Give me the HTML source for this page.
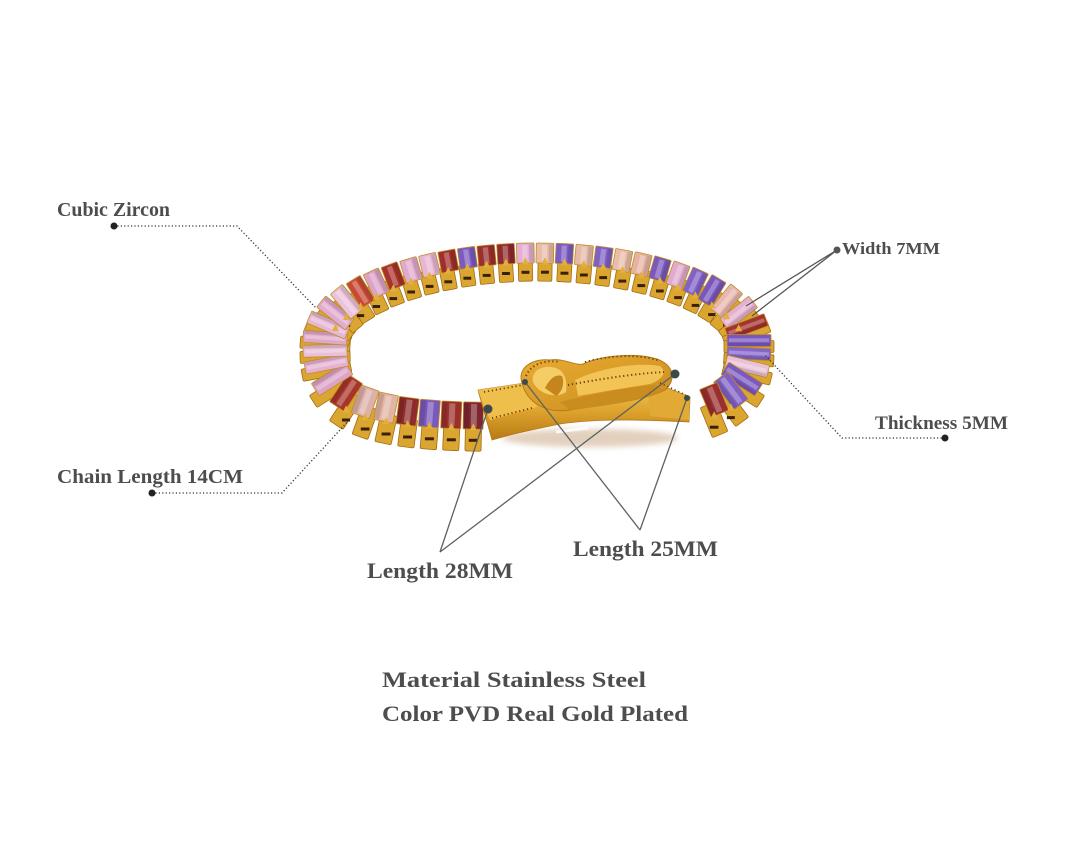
<!DOCTYPE html>
<html><head><meta charset="utf-8">
<style>
html,body{margin:0;padding:0;background:#fff;}
svg{display:block;}
text{font-family:"Liberation Serif","DejaVu Serif",serif;font-weight:bold;fill:#4d4d4d;}
</style></head>
<body>
<svg id="s" width="1080" height="864" viewBox="0 0 1080 864" xmlns="http://www.w3.org/2000/svg">
<defs>
  <linearGradient id="gb" x1="0" y1="0" x2="0" y2="1">
    <stop offset="0" stop-color="#f4cc5a"/>
    <stop offset="0.5" stop-color="#dea42e"/>
    <stop offset="1" stop-color="#b87a14"/>
  </linearGradient>
  <linearGradient id="gl" x1="0" y1="0" x2="1" y2="1">
    <stop offset="0" stop-color="#e8ad34"/>
    <stop offset="1" stop-color="#c98a1c"/>
  </linearGradient>
  <filter id="bl" x="-20%" y="-50%" width="140%" height="200%"><feGaussianBlur stdDeviation="3"/></filter>
</defs>
<rect width="1080" height="864" fill="#fff"/>

<g id="gold"></g>
<g id="slots"></g>
<g id="gems"></g>
<g id="prongs"></g>

<!-- clasp -->
<g id="clasp">
  <ellipse cx="590" cy="438" rx="88" ry="9" fill="#b98a5c" opacity="0.4" filter="url(#bl)"/>
  <path d="M478,390 L525,383 L560,392 L650,381 L690,397 L689,422 C650,420 600,418 560,424 C530,430 505,436 492,440 C488,425 482,405 478,390 Z" fill="url(#gb)" stroke="#b27716" stroke-width="0.8"/>
  <path d="M478,390 L525,383 L537,407 L490,420 Z" fill="#efbf4c"/>
  <path d="M647,381 L690,397 L689,420 L650,416 Z" fill="#e2aa34"/>
  <path d="M522,383 C517,368 532,358 550,360 C565,358 575,366 583,364 C600,356 635,352 657,359 C675,366 676,380 665,390 C640,402 600,405 570,410 C545,414 527,402 522,383 Z" fill="url(#gl)" stroke="#b57a18" stroke-width="1"/>
  <path d="M533,382 C531,372 540,366 551,367 C563,368 568,378 566,392 C558,398 540,396 533,382 Z" fill="#f4cd66"/>
  <path d="M545,388 C550,378 556,374 562,376 C565,384 562,392 556,396 Z" fill="#c4861c"/>
  <path d="M575,380 C600,368 635,362 660,366 C668,372 662,380 650,384 C625,388 600,392 578,396 Z" fill="#f2c456"/>
  <path d="M560,402 C590,395 620,388 655,385 L665,390 C640,402 600,406 570,410 Z" fill="#c98c1e"/>
  <path d="M526,376 C532,362 548,360 560,362" fill="none" stroke="#6b3e0c" stroke-width="2" stroke-dasharray="1.2 2.8"/>
  <path d="M585,362 C610,355 640,354 660,361" fill="none" stroke="#6b3e0c" stroke-width="1.8" stroke-dasharray="1.2 2.8"/>
  <path d="M568,385 C595,380 630,374 664,372" fill="none" stroke="#6b3e0c" stroke-width="2" stroke-dasharray="1.2 2.8"/>
  <path d="M484,392 L523,385" fill="none" stroke="#6b3e0c" stroke-width="1.8" stroke-dasharray="1.2 2.8"/>
  <path d="M492,418 L532,408" fill="none" stroke="#6b3e0c" stroke-width="1.8" stroke-dasharray="1.2 2.8"/>
  <path d="M660,383 L686,395" fill="none" stroke="#6b3e0c" stroke-width="1.6" stroke-dasharray="1.2 2.8"/>
  <path d="M556,432 L588,428" stroke="#fff" stroke-width="3" opacity="0.85"/>
</g>

<!-- leaders -->
<g fill="none">
  <polyline points="114,226 237,226 316,308" stroke="#333" stroke-width="1.3" stroke-dasharray="1.2 2.2"/>
  <polyline points="152,493 282,493 350,419" stroke="#333" stroke-width="1.3" stroke-dasharray="1.2 2.2"/>
  <polyline points="945,438 842,438 765,355" stroke="#333" stroke-width="1.3" stroke-dasharray="1.2 2.2"/>
  <line x1="837" y1="250" x2="746" y2="306" stroke="#555" stroke-width="1.3"/>
  <line x1="837" y1="250" x2="752" y2="316" stroke="#555" stroke-width="1.3"/>
  <line x1="440" y1="552" x2="488" y2="409" stroke="#5c6262" stroke-width="1.3"/>
  <line x1="440" y1="552" x2="675" y2="374" stroke="#5c6262" stroke-width="1.3"/>
  <line x1="640" y1="530" x2="525" y2="382" stroke="#5c6262" stroke-width="1.3"/>
  <line x1="640" y1="530" x2="687" y2="398" stroke="#5c6262" stroke-width="1.3"/>
</g>
<g>
  <circle cx="114" cy="226" r="3.5" fill="#222"/>
  <circle cx="152" cy="493" r="3.5" fill="#222"/>
  <circle cx="945" cy="438" r="3.5" fill="#222"/>
  <circle cx="837" cy="250" r="3.5" fill="#555"/>
  <circle cx="488" cy="409" r="4.5" fill="#3d4a4c"/>
  <circle cx="675" cy="374" r="4.5" fill="#3d4a4c"/>
  <circle cx="525" cy="382" r="3" fill="#3d4a4c"/>
  <circle cx="687" cy="398" r="3" fill="#3d4a4c"/>
</g>

<text x="57" y="216" font-size="20" textLength="113" lengthAdjust="spacingAndGlyphs">Cubic Zircon</text>
<text x="57" y="483" font-size="20" textLength="186" lengthAdjust="spacingAndGlyphs">Chain Length 14CM</text>
<text x="842" y="254" font-size="17" textLength="98" lengthAdjust="spacingAndGlyphs">Width 7MM</text>
<text x="875" y="429" font-size="19" textLength="133" lengthAdjust="spacingAndGlyphs">Thickness 5MM</text>
<text x="367" y="578" font-size="22" textLength="146" lengthAdjust="spacingAndGlyphs">Length 28MM</text>
<text x="573" y="556" font-size="22" textLength="145" lengthAdjust="spacingAndGlyphs">Length 25MM</text>
<text x="382" y="687" font-size="22" textLength="264" lengthAdjust="spacingAndGlyphs">Material Stainless Steel</text>
<text x="382" y="721" font-size="22" textLength="306" lengthAdjust="spacingAndGlyphs">Color PVD Real Gold Plated</text>
</svg>

<script>
(function(){
var NS='http://www.w3.org/2000/svg';
var cx=537, cy=340, A=212, Bt=87, Bb=76, E=0.6;
function P(t){
  var c=Math.cos(t), s=Math.sin(t);
  if(s>0){
    return [cx + A*(c<0?-1:1)*Math.pow(Math.abs(c),E), cy + Bb*Math.pow(s,E)];
  }
  return [cx + A*c, cy + Bt*s];
}
var t0=96*Math.PI/180, t1=414*Math.PI/180;
var N=4000, pts=[], i;
for(i=0;i<=N;i++){ pts.push(P(t0+(t1-t0)*i/N)); }
var cum=[0];
for(i=1;i<=N;i++){ cum.push(cum[i-1]+Math.hypot(pts[i][0]-pts[i-1][0], pts[i][1]-pts[i-1][1])); }
function at(len){
  var lo=0,hi=N;
  while(hi-lo>1){var m=(lo+hi)>>1; if(cum[m]<len) lo=m; else hi=m;}
  var j=Math.min(lo+1,N);
  var seg=(cum[j]-cum[lo])||1, f=(len-cum[lo])/seg;
  var x=pts[lo][0]+(pts[j][0]-pts[lo][0])*f, y=pts[lo][1]+(pts[j][1]-pts[lo][1])*f;
  var a=Math.max(0,lo-3), b=Math.min(N,lo+4);
  var tx=pts[b][0]-pts[a][0], ty=pts[b][1]-pts[a][1];
  var nl=Math.hypot(tx,ty)||1;
  return {x:x,y:y,nx:ty/nl,ny:-tx/nl};
}
var COLS=['#7e2630','#9b2f2c','#7a58bd','#8e2b2b','#e2b4a4','#ddb0a8','#a8352c','#dca3c6','#e4b1d2','#e9bfd9','#dfa8cb','#e6b8d4','#e2aacd','#eac3dc','#c84a36','#dca2c8','#a8332b','#e1a9cd','#e7b6d4','#a02f2b','#7c5ac0','#9c302d','#8f2b2c','#e4afd3','#e8bca9','#7d5cc2','#e6b9a8','#7f60c4','#e9bda9','#e6b3a2','#7a58bc','#e0aacd','#8262c6','#7a57bd','#e8b7b0','#e3b0cf','#a3332e','#7b58c0','#8466c8','#e9c1d8','#7c59c0','#8160c4','#9a2f30','#7857bc','#7b5bbf','#8a63c6','#7a58bd'];
var total=cum[N], pos=9, links=[];
while(pos<total-4){
  var p=at(pos), cf=p.nx, sf=p.ny, top=sf<0;
  var S=top?19.5:22;
  var sp=Math.hypot(13*cf,S*sf);
  var L=Math.hypot(44*cf,(top?20:27)*sf);
  var W=Math.hypot(12*cf,(top?17.5:20)*sf);
  var d=6+(top?12:16)*sf*sf;
  links.push({x:p.x,y:p.y,L:L,W:W,d:d,phi:Math.atan2(sf,cf)*180/Math.PI,as:Math.abs(sf),ac:Math.abs(cf)});
  pos+=sp;
}
var gG=document.getElementById('gold'), gS=document.getElementById('slots'), gM=document.getElementById('gems'), gP=document.getElementById('prongs');
function el(tag,attrs,parent){var e=document.createElementNS(NS,tag); for(var k in attrs) e.setAttribute(k,attrs[k]); parent.appendChild(e); return e;}
links.forEach(function(k,idx){
  var col=COLS[idx%COLS.length];
  var ext=3*k.ac;
  var bw=k.W*(0.8+0.2*k.ac);
  var g=el('g',{transform:'translate('+k.x.toFixed(1)+','+(k.y+k.d).toFixed(1)+') rotate('+k.phi.toFixed(1)+')'},gG);
  el('rect',{x:(-k.L/2-ext).toFixed(1),y:(-bw/2).toFixed(1),width:(k.L+2*ext).toFixed(1),height:bw.toFixed(1),rx:1.5,fill:'#dba630',stroke:'#a36d14','stroke-width':0.8},g);
  if(k.as>0.6){
    var half=k.L/2*k.as + k.W/2*k.ac;
    var sw=k.W*0.45;
    el('rect',{x:(k.x-sw/2).toFixed(1),y:(k.y+half+k.d/2-1.5).toFixed(1),width:sw.toFixed(1),height:3,fill:'#3a2008'},gS);
    var py=k.y+half;
    el('path',{d:'M'+(k.x-3.5).toFixed(1)+','+(py+1).toFixed(1)+' L'+k.x.toFixed(1)+','+(py-6).toFixed(1)+' L'+(k.x+3.5).toFixed(1)+','+(py+1).toFixed(1)+' Z',fill:'#e2b03a'},gP);
  }
  var m=el('g',{transform:'translate('+k.x.toFixed(1)+','+k.y.toFixed(1)+') rotate('+k.phi.toFixed(1)+')'},gM);
  el('rect',{x:-k.L/2,y:-k.W/2,width:k.L,height:k.W,rx:1,fill:col,stroke:'#c18d22','stroke-width':0.8},m);
  el('rect',{x:-k.L/2+2,y:-k.W*0.18,width:Math.max(0,k.L-4),height:k.W*0.3,fill:'#fff','fill-opacity':0.28},m);
  el('rect',{x:-k.L/2+1,y:k.W*0.22,width:Math.max(0,k.L-2),height:k.W*0.26,fill:'#000','fill-opacity':0.12},m);
});
})();
</script>
</body></html>
